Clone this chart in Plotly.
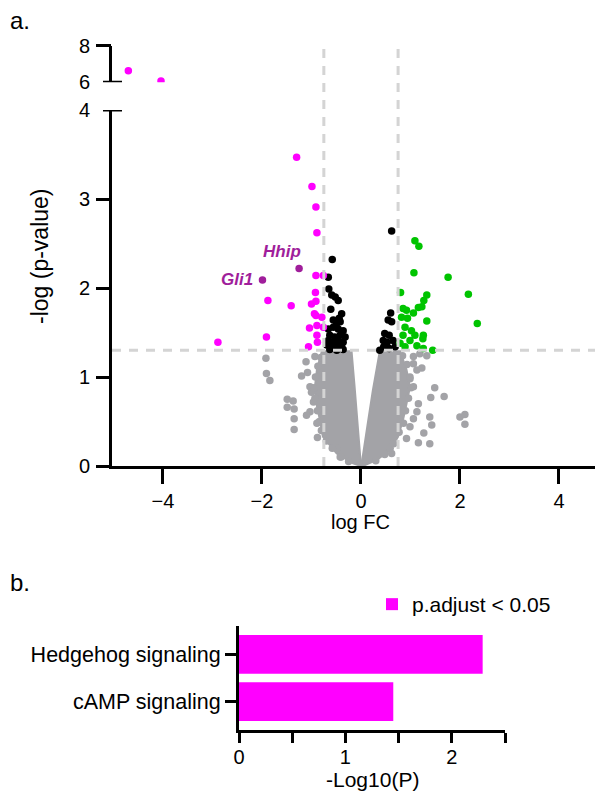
import plotly.graph_objects as go

# the page body adds an 8px margin, so the figure is drawn 8px smaller
OFF = 8
W, H = 603 - OFF, 795 - OFF
FONT = "Liberation Sans, Arial, sans-serif"

# ---------------- volcano data (log FC, -log p) ----------------
# outline of the dense cloud of non-significant genes (the grey "V")
core_left_fc = [0.00, -0.16, -0.49, -0.77, -0.83, -0.90, -0.93, -0.89, -0.79, -0.19, -0.13, -0.07, -0.02, 0.00]
core_left_lp = [0.00, 0.03, 0.14, 0.33, 0.52, 0.70, 0.89, 1.08, 1.29, 1.29, 0.90, 0.50, 0.12, 0.00]
core_right_fc = [0.00, 0.04, 0.13, 0.24, 0.38, 0.79, 0.92, 0.99, 0.92, 0.85, 0.75, 0.59, 0.32, 0.08, 0.00]
core_right_lp = [0.00, 0.12, 0.45, 0.85, 1.29, 1.29, 1.08, 0.89, 0.70, 0.52, 0.33, 0.18, 0.07, 0.01, 0.00]

# individual non-significant genes around the cloud
grey_fc = [-1.92, -1.91, -1.84, -1.49, -1.37, -1.49, -1.35, -1.35, -1.35, -1.11, -1.08, -1.20,
           -1.03, -1.00, -0.96, -1.03, -1.10, -0.89, -0.88, -0.49, -0.42, -0.93,
           1.06, 1.13, 1.23, 0.99, 1.06, 1.16, 1.13, 1.06, 0.99, 0.92, 1.16, 1.49, 1.41, 1.68,
           1.39, 1.43, 1.39, 1.27, 2.00, 2.10, 2.10, 0.59, 0.62, 1.19, 1.33, 1.06,
           -0.81, -0.87, -0.92, -0.95, -0.93, -0.88, -0.84, -0.80, -0.70, -0.58, -0.40, -0.25,
           0.84, 0.93, 0.99, 1.01, 0.96, 0.90, 0.86, 0.77, 0.66, 0.48, 0.30]
grey_lp = [1.21, 1.04, 0.96, 0.75, 0.73, 0.66, 0.64, 0.53, 0.41, 1.17, 1.05, 1.01,
           0.89, 0.83, 0.72, 0.61, 0.57, 0.48, 0.32, 0.20, 0.10, 1.23,
           1.15, 1.08, 1.10, 0.98, 0.89, 0.70, 0.61, 0.53, 0.44, 0.31, 0.26, 0.88, 0.77, 0.78,
           0.55, 0.46, 0.25, 0.37, 0.55, 0.58, 0.47, 0.20, 0.14, 1.26, 1.24, 1.23,
           1.22, 1.12, 1.00, 0.88, 0.76, 0.62, 0.50, 0.40, 0.28, 0.20, 0.10, 0.05,
           1.24, 1.14, 1.00, 0.88, 0.76, 0.62, 0.48, 0.38, 0.25, 0.13, 0.06]

# significant but small fold change (black)
black_fc = [-0.66, -0.56, -0.46, -0.36, -0.63, -0.53, -0.42, -0.32, -0.66, -0.56, -0.46, -0.36,
            -0.69, -0.59, -0.49, -0.39, -0.63, -0.49, -0.36, -0.42, -0.39, -0.44, -0.59, -0.52,
            -0.46, -0.61, -0.65, -0.66, -0.58, -0.49, -0.56,
            0.62, 0.60, 0.55, 0.62, 0.48, 0.57, 0.45, 0.53, 0.65, 0.46, 0.57, 0.69, 0.38]
black_lp = [1.54, 1.56, 1.54, 1.52, 1.47, 1.45, 1.47, 1.45, 1.41, 1.39, 1.41, 1.39,
            1.36, 1.34, 1.36, 1.34, 1.31, 1.30, 1.31, 1.62, 1.71, 1.66, 1.92, 1.90,
            1.86, 1.76, 1.99, 2.12, 2.32, 1.60, 1.64,
            2.64, 1.72, 1.64, 1.62, 1.49, 1.47, 1.41, 1.39, 1.41, 1.34, 1.32, 1.34, 1.30]

# up-regulated (green)
up_fc = [1.09, 1.17, 1.07, 1.76, 2.17, 2.35, 0.80, 1.33, 1.27, 1.23, 1.16, 0.85, 0.92, 1.06,
         0.94, 1.33, 0.89, 0.85, 1.09, 1.26, 1.25, 0.99, 1.13, 1.26, 1.45, 0.82, 0.79, 0.89, 1.02]
up_lp = [2.53, 2.47, 2.17, 2.12, 1.93, 1.60, 1.95, 1.92, 1.86, 1.79, 1.78, 1.77, 1.75, 1.72,
         1.66, 1.63, 1.56, 1.47, 1.47, 1.47, 1.43, 1.41, 1.35, 1.32, 1.30, 1.67, 1.38, 1.34, 1.52]

# down-regulated (magenta)
down_fc = [-1.30, -0.99, -0.91, -0.89, -0.91, -0.76, -0.92, -0.91, -1.00, -1.88, -1.41, -0.94,
           -0.91, -0.79, -1.04, -0.89, -0.76, -1.91, -2.89, -0.89, -0.88, -1.06]
down_lp = [3.47, 3.14, 2.91, 2.62, 2.14, 2.14, 1.95, 1.85, 1.82, 1.86, 1.80, 1.71,
           1.69, 1.67, 1.55, 1.58, 1.56, 1.45, 1.39, 1.47, 1.39, 1.34]
# down-regulated above the axis break
down_hi_fc = [-4.70, -4.04]
down_hi_lp = [6.63, 6.07]

# highlighted Hedgehog genes
hl_genes = ["Hhip", "Gli1"]
hl_fc = [-1.25, -1.99]
hl_lp = [2.22, 2.09]

FC_CUT = 0.75
P_CUT = 1.301

# ---------------- enrichment data ----------------
pathways = ["cAMP signaling", "Hedgehog signaling"]
neglog10p = [1.45, 2.29]

GREY = "#A3A3A7"
MAGENTA = "#FF00FF"
GREEN = "#00C400"
DARK = "#A01E9B"
DASH = "#D4D4D4"


def px_x(p):
    return (p - OFF) / W


def px_y(p):
    return 1 - (p - OFF) / H


fig = go.Figure()

for fx, fy in [(core_left_fc, core_left_lp), (core_right_fc, core_right_lp)]:
    fig.add_trace(go.Scatter(x=fx, y=fy, mode="lines", fill="toself", fillcolor=GREY,
                             line=dict(color=GREY, width=2), hoverinfo="skip",
                             showlegend=False, xaxis="x", yaxis="y"))


def pts(x, y, color, yaxis="y"):
    fig.add_trace(go.Scatter(x=x, y=y, mode="markers", showlegend=False,
                             marker=dict(color=color, size=7.5, line=dict(width=0)),
                             xaxis="x", yaxis=yaxis))


pts(grey_fc, grey_lp, GREY)
pts(black_fc, black_lp, "black")
pts(up_fc, up_lp, GREEN)
pts(down_fc, down_lp, MAGENTA)
pts(down_hi_fc, down_hi_lp, MAGENTA, "y2")
pts(hl_fc, hl_lp, DARK)

fig.add_trace(go.Bar(x=neglog10p, y=pathways, orientation="h", width=0.82,
                     marker=dict(color=MAGENTA, line=dict(width=0)),
                     name="p.adjust < 0.05", showlegend=True, xaxis="x2", yaxis="y3"))

axis_common = dict(showgrid=False, zeroline=False, showline=True, linecolor="black",
                   linewidth=3, automargin=False,
                   tickfont=dict(family=FONT, size=20, color="black"))

V_LOW = [px_y(466), px_y(110)]
V_UP = [px_y(82.3), px_y(45.7)]

fig.update_layout(
    template="none", autosize=False,
    width=W, height=H, margin=dict(l=0, r=0, t=0, b=0, pad=0, autoexpand=False),
    paper_bgcolor="white", plot_bgcolor="white",
    font=dict(family=FONT, color="black"),
    xaxis=dict(domain=[px_x(112), 1.0], range=[-5.03, 4.89], anchor="y",
               tickvals=[-4, -2, 0, 2, 4], ticks="outside", ticklen=15, tickwidth=3,
               tickcolor="black", **axis_common),
    yaxis=dict(domain=V_LOW, range=[0, 4], anchor="x", tickvals=[0, 1, 2, 3, 4],
               ticks="outside", ticklen=15, tickwidth=3, tickcolor="rgba(0,0,0,0)",
               **axis_common),
    yaxis4=dict(overlaying="y", anchor="x", side="left", range=[0, 4], tickvals=[0, 1, 2, 3],
                ticks="outside", ticklen=15, tickwidth=3, tickcolor="black", automargin=False,
                showticklabels=False, showgrid=False, zeroline=False, showline=False),
    yaxis2=dict(domain=V_UP, range=[6, 8], anchor="x", tickvals=[6, 8],
                ticks="outside", ticklen=15, tickwidth=3, tickcolor="rgba(0,0,0,0)",
                **axis_common),
    yaxis5=dict(overlaying="y2", anchor="x", side="left", range=[6, 8], tickvals=[8],
                ticks="outside", ticklen=15, tickwidth=3, tickcolor="black", automargin=False,
                showticklabels=False, showgrid=False, zeroline=False, showline=False),
    xaxis2=dict(domain=[px_x(239), px_x(505)], range=[0, 2.5], anchor="y3",
                tickvals=[0, 1, 2], ticks="outside", ticklen=10, tickwidth=3, tickcolor="black",
                ticklabelstandoff=-3,
                minor=dict(tickmode="array", tickvals=[0.5, 1.5, 2.5], ticks="outside",
                           ticklen=10, tickwidth=3, tickcolor="black"),
                **axis_common),
    yaxis3=dict(domain=[px_y(730), px_y(626)], range=[-0.6, 1.6], anchor="x2",
                type="category", ticks="outside", ticklen=11, tickwidth=3, tickcolor="black",
                **{**axis_common, "tickfont": dict(family=FONT, size=21.5, color="black")}),
    legend=dict(x=px_x(372), y=px_y(584), xanchor="left", yanchor="top",
                bgcolor="rgba(0,0,0,0)", font=dict(family=FONT, size=21, color="black")),
)

# invisible anchors so the tick-only overlay axes are drawn
fig.add_trace(go.Scatter(x=[None], y=[None], xaxis="x", yaxis="y4", showlegend=False))
fig.add_trace(go.Scatter(x=[None], y=[None], xaxis="x", yaxis="y5", showlegend=False))

shapes = []
# threshold lines
for v in (-FC_CUT, FC_CUT):
    shapes.append(dict(type="line", xref="x", yref="paper", x0=v, x1=v,
                       y0=V_LOW[0], y1=V_UP[1], layer="above",
                       line=dict(color=DASH, width=3, dash="9px,8px")))
shapes.append(dict(type="line", xref="paper", yref="y", x0=px_x(112), x1=1.0,
                   y0=P_CUT, y1=P_CUT, layer="above",
                   line=dict(color=DASH, width=3, dash="9px,8px")))
# axis-break caps
shapes.append(dict(type="line", xref="paper", yref="y", x0=px_x(103), x1=px_x(122),
                   y0=4, y1=4, line=dict(color="black", width=3)))
shapes.append(dict(type="line", xref="paper", yref="y2", x0=px_x(103), x1=px_x(122),
                   y0=6, y1=6, line=dict(color="black", width=3)))
fig.update_layout(shapes=shapes)

ann = [
    dict(text="a.", x=px_x(8), y=px_y(20), xref="paper", yref="paper", xanchor="left",
         yanchor="middle", height=24, showarrow=False, font=dict(size=24)),
    dict(text="b.", x=px_x(8), y=px_y(582), xref="paper", yref="paper", xanchor="left",
         yanchor="middle", showarrow=False, font=dict(size=24)),
    dict(text="log FC", x=0, y=px_y(522), xref="x", yref="paper", xanchor="center",
         yanchor="middle", showarrow=False, font=dict(size=20)),
    dict(text="-log (p-value)", x=px_x(40), y=px_y(256), xref="paper", yref="paper",
         xanchor="center", yanchor="middle", textangle=-90, showarrow=False,
         font=dict(size=23)),
    dict(text="-Log10(P)", x=1.25, y=px_y(779), xref="x2", yref="paper", xanchor="center",
         yanchor="middle", showarrow=False, font=dict(size=21)),
    dict(text="<b><i>%s</i></b>" % hl_genes[0], x=hl_fc[0], y=hl_lp[0], xref="x", yref="y",
         xanchor="center", yanchor="middle", xshift=-17, yshift=17, showarrow=False,
         font=dict(size=17, color=DARK)),
    dict(text="<b><i>%s</i></b>" % hl_genes[1], x=hl_fc[1], y=hl_lp[1], xref="x", yref="y",
         xanchor="right", yanchor="middle", xshift=-7, yshift=0, showarrow=False,
         font=dict(size=17, color=DARK)),
]
fig.update_layout(annotations=ann)

fig.write_html("out.html")
